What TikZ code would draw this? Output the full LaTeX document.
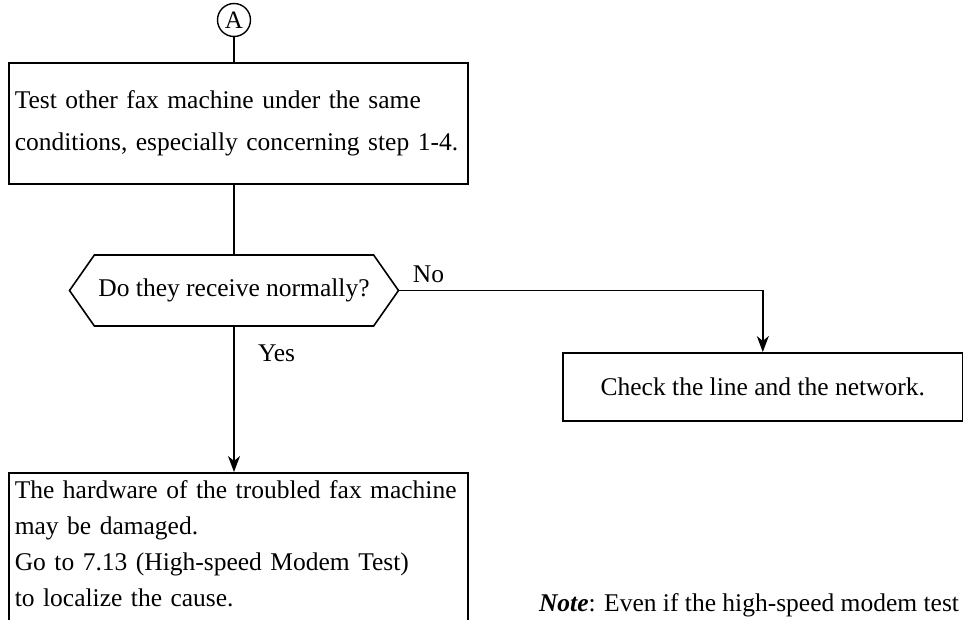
\documentclass[tikz,border=0pt]{standalone}
\usepackage{fontspec}
\setmainfont{Liberation Serif}
\usetikzlibrary{shapes.geometric, shapes.symbols, arrows.meta, positioning, calc}
\tikzset{
    process/.style={rectangle, draw, line width=1.6pt, minimum width=459pt, text width=447pt, inner xsep=6pt, execute at begin node={\raggedright}},
    wide process/.style={rectangle, draw, line width=1.6pt, minimum width=400pt, minimum height=68pt, align=center},
    decision/.style={signal, signal to=west and east, signal pointer angle=110, draw, line width=1.6pt, minimum width=329pt, minimum height=71pt, inner xsep=0pt, align=center},
    connector/.style={circle, draw, line width=1.4pt, minimum size=33pt, inner sep=0pt, font=\fontsize{25}{28}\selectfont},
    flow/.style={-{Stealth[length=16pt, width=12pt, inset=5pt]}}
}

\begin{document}
\begin{tikzpicture}[x=1pt, y=1pt, line width=1.4pt, font=\fontsize{25.5}{36}\selectfont]
    \useasboundingbox (0,0) rectangle (963,-619);

    % Nodes
    \node[connector] (A) at (234,-20) {A};
    \node[process, minimum height=121pt, anchor=north west] (other) at (8,-62)
        {Test other fax machine under the same\\[6pt]conditions, especially concerning step 1-4.};
    \node[decision] (normal) at (234,-290.5) {Do they receive normally?};
    \node[wide process, anchor=north west] (line) at (562,-352) {Check the line and the network.};
    \node[process, inner ysep=8pt, anchor=north west] (hardware) at (8,-472)
        {The hardware of the troubled fax machine\\may be damaged.\\Go to 7.13 (High-speed Modem Test)\\to localize the cause.\\\mbox{}};
    \node[anchor=base west] (note) at (535,-611) {\textbf{\textit{Note}}: Even if the high-speed modem test};

    % Links
    \draw (A) -- (A |- other.north);
    \draw (A |- other.south) -- (normal.north);
    \draw[flow] (normal.east) -| node[pos=0.04, above=4pt] {No} (line.north);
    \draw[flow] (normal.south) -- node[pos=0.18, right=20pt] {Yes} (normal.south |- hardware.north);
\end{tikzpicture}
\end{document}
